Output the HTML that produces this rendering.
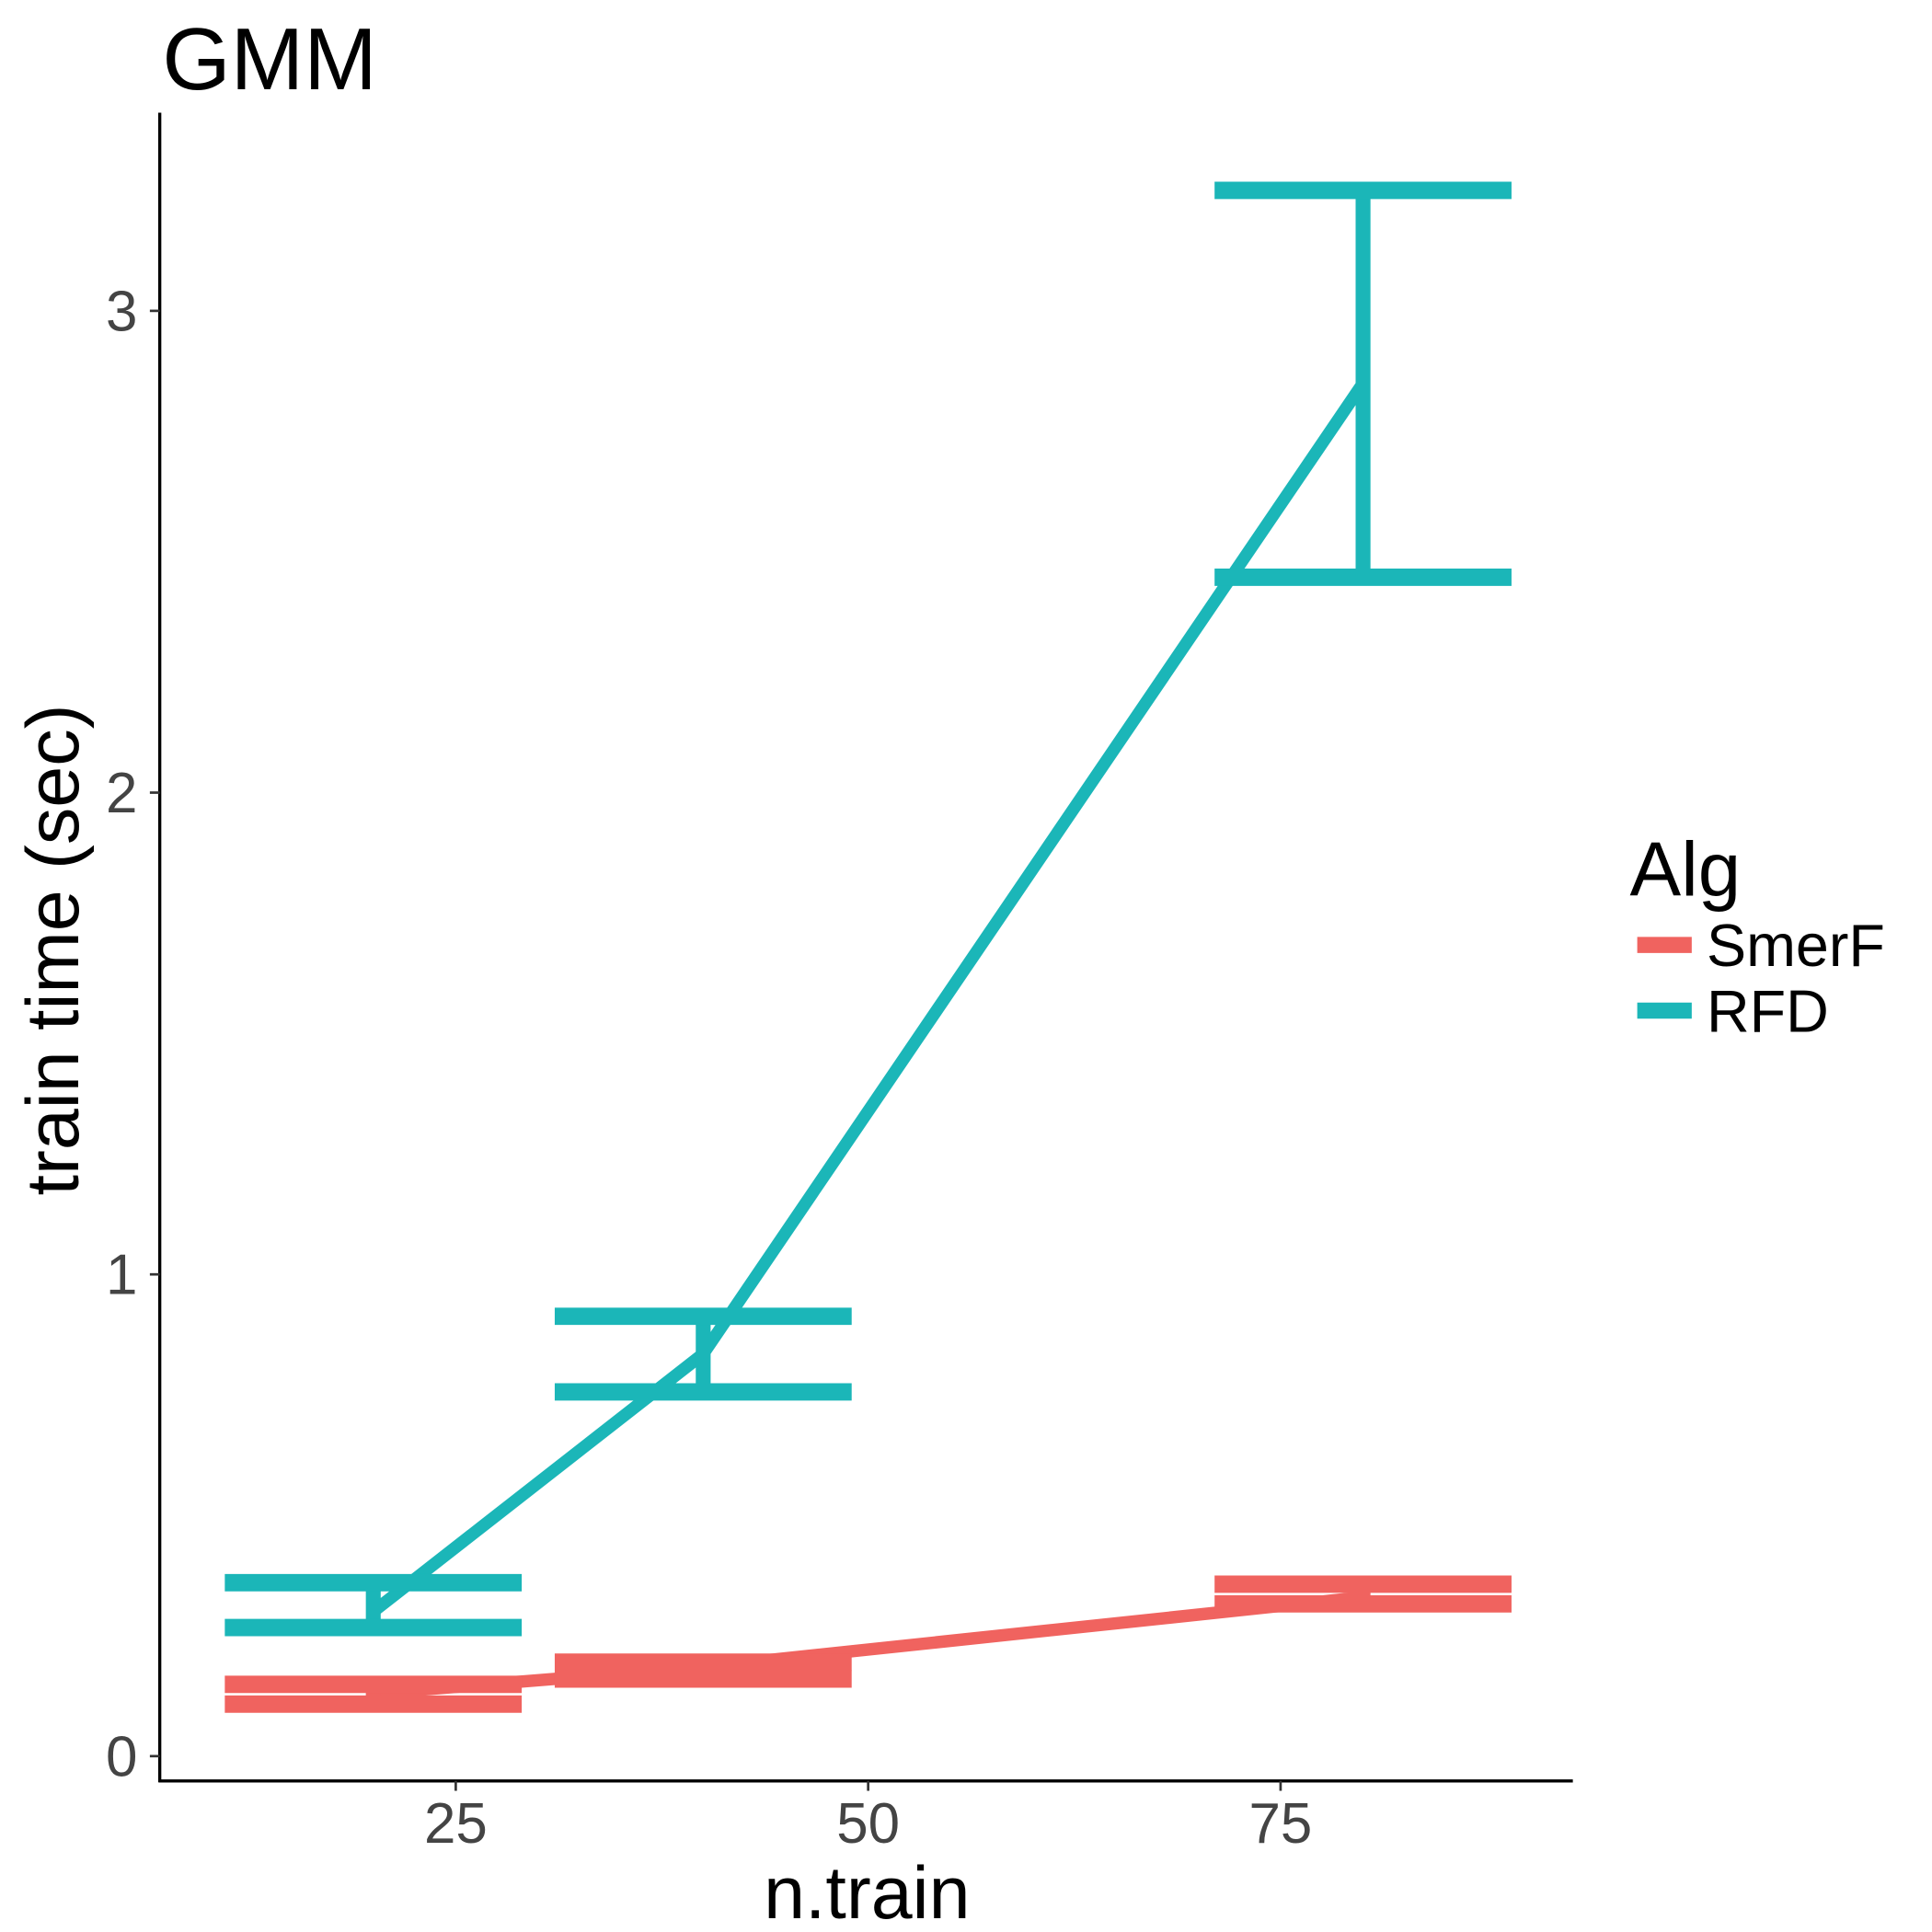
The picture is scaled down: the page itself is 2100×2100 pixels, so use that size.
<!DOCTYPE html>
<html><head><meta charset="utf-8"><style>html,body{margin:0;padding:0;background:#fff}svg{display:block}text{font-family:"Liberation Sans",Arial,sans-serif}</style></head>
<body>
<svg id="chart" width="2100" height="2100" viewBox="0 0 1560 1560" xmlns="http://www.w3.org/2000/svg">
<rect width="1560" height="1560" fill="#fff"/>
<text x="131" y="72" font-size="71" fill="#000">GMM</text>
<g id="axes"></g>
<g id="marks"></g>
<text x="700" y="1549" font-size="60" text-anchor="middle">n.train</text>
<text transform="translate(63,767) rotate(-90)" font-size="60" text-anchor="middle">train time (sec)</text>
<text x="1316" y="723" font-size="62">Alg</text>
<g><line x1="1322" y1="763" x2="1366" y2="763" stroke="#F0635F" stroke-width="13"/><text x="1378" y="780" font-size="48">SmerF</text></g>
<g><line x1="1322" y1="816" x2="1366" y2="816" stroke="#1BB6B8" stroke-width="13"/><text x="1378" y="833" font-size="48">RFD</text></g>
</svg>
<script>
const nTrain=[20,40,80];
const smerfMean=[0.13,0.185,0.33];
const smerfLow=[0.108,0.16,0.316];
const smerfHigh=[0.149,0.195,0.357];
const rfdMean=[0.30,0.835,2.85];
const rfdLow=[0.267,0.756,2.447];
const rfdHigh=[0.36,0.913,3.25];
const xTicks=[25,50,75];
const yTicks=[0,1,2,3];
const NS="http://www.w3.org/2000/svg";
function xs(v){return 368+(v-25)*13.32;}
function ys(v){return 1418-v*389;}
function mk(tag,attrs,parent){const e=document.createElementNS(NS,tag);for(const k in attrs)e.setAttribute(k,attrs[k]);parent.appendChild(e);return e;}
const axes=document.getElementById('axes'),marks=document.getElementById('marks');
let a=mk('line',{x1:129,y1:91,x2:129,y2:1439,stroke:'#000','stroke-width':2.5},axes);


a=mk('line',{x1:128,y1:1438,x2:1270,y2:1438,stroke:'#000','stroke-width':2.5},axes);


xTicks.forEach(t=>{const x=xs(t);
mk('line',{x1:x,y1:1438,x2:x,y2:1446,stroke:'#333','stroke-width':2},axes);
const tx=mk('text',{x:x,y:1488,'font-size':46,fill:'#444','text-anchor':'middle'},axes);tx.textContent=t;

});
yTicks.forEach(t=>{const y=ys(t);
mk('line',{x1:121,y1:y,x2:129,y2:y,stroke:'#333','stroke-width':2},axes);
const tx=mk('text',{x:111,y:y+16,'font-size':46,fill:'#444','text-anchor':'end'},axes);tx.textContent=t;

});
function series(name,col,mean,lo,hi){
const g=mk('g',{},marks);


const pl=mk('polyline',{points:nTrain.map((v,i)=>xs(v)+','+ys(mean[i])).join(' '),fill:'none',stroke:col,'stroke-width':10},g);


nTrain.forEach((v,i)=>{const x=xs(v),hw=9*13.32;
const eb=mk('g',{},g);


mk('line',{x1:x,y1:ys(lo[i]),x2:x,y2:ys(hi[i]),stroke:col,'stroke-width':12},eb);
mk('line',{x1:x-hw,y1:ys(lo[i]),x2:x+hw,y2:ys(lo[i]),stroke:col,'stroke-width':14},eb);
mk('line',{x1:x-hw,y1:ys(hi[i]),x2:x+hw,y2:ys(hi[i]),stroke:col,'stroke-width':14},eb);});
}
series('smerf','#F0635F',smerfMean,smerfLow,smerfHigh);
series('rfd','#1BB6B8',rfdMean,rfdLow,rfdHigh);
</script>
</body></html>
